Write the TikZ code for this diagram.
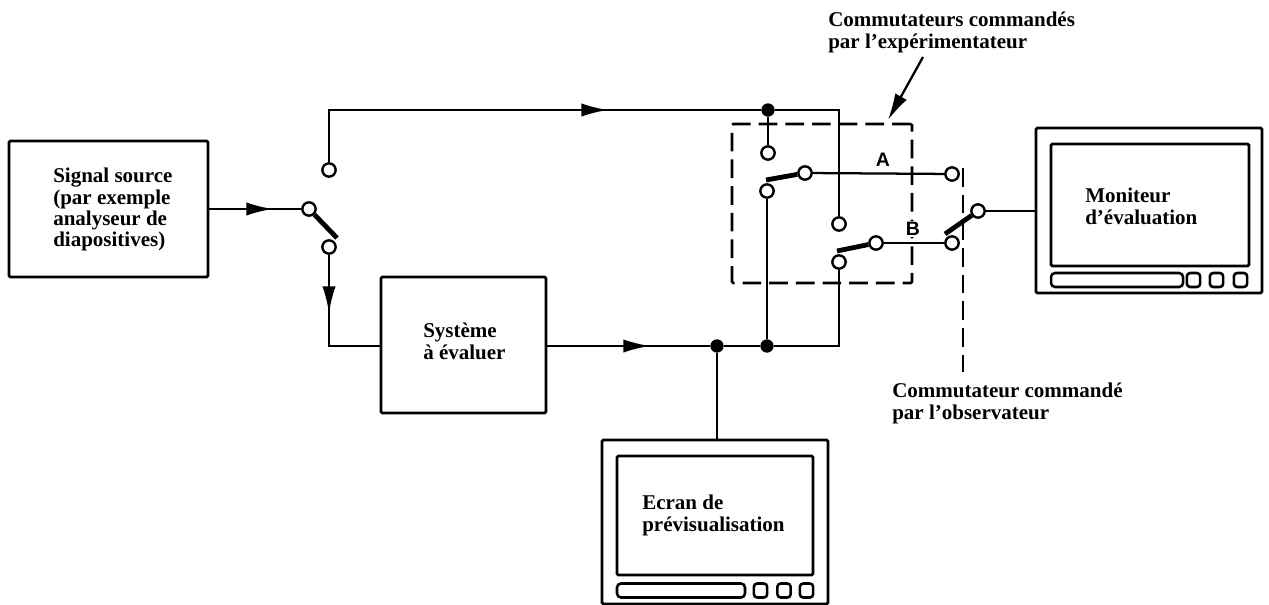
\documentclass[tikz,border=0pt]{standalone}
\usepackage{fontspec}
\setmainfont{Liberation Serif}
\newfontfamily\labelfont{Liberation Sans}
\usepackage{tikz}
\usetikzlibrary{arrows.meta, positioning, calc}
\tikzset{
    box/.style={rectangle, draw, line width=2.1pt, rounded corners=1pt},
    screen/.style={rectangle, draw, line width=2.1pt, rounded corners=1pt},
    slot/.style={rectangle, draw, line width=1.9pt, rounded corners=3pt, minimum height=10.5pt},
    knob/.style={rectangle, draw, line width=1.9pt, rounded corners=2.5pt, minimum height=10.5pt, minimum width=10pt},
    caption/.style={anchor=north west, inner sep=0pt, align=left, font=\fontsize{15.75}{16}\selectfont\bfseries},
    letter/.style={fill=white, inner sep=1pt, font=\fontsize{14.6}{15}\selectfont\labelfont\bfseries},
    contact/.style={circle, draw, fill=white, line width=1.8pt, inner sep=0pt, minimum size=10pt},
    junction/.style={circle, fill=black, inner sep=0pt, minimum size=10pt},
    wire/.style={line width=1.7pt},
    blade/.style={line width=3.6pt},
    flow/.style={line width=1.7pt, -{Latex[length=20pt, width=10pt]}},
    dashline/.style={line width=2pt, dash pattern=on 14pt off 6pt}
}
\begin{document}
\begin{tikzpicture}[x=0.75pt, y=-0.75pt, >=stealth]
        \useasboundingbox (0,0) rectangle (1269,605);

        \node [box, minimum width=149.25pt, minimum height=102pt] (source) at (108.5,209) {};
        \node [caption] (sourcetext) at (53,168) {Signal source\\(par exemple\\analyseur de\\diapositives)};
        \node [box, minimum width=123.75pt, minimum height=102pt] (system) at (463.5,345) {};
        \node [caption] (systemtext) at (423,323) {Système\\à évaluer};

        \node [contact] (inup) at (329,170) {};
        \node [contact] (inpole) at (309,209) {};
        \node [contact] (indown) at (329,247) {};
        \coordinate (inbend) at (329,346);
        \coordinate (inend) at (337,238);
        \coordinate (intip) at (273,209);
        \coordinate (downtip) at (329,313);
        \coordinate (topbend) at (329,110);
        \coordinate (toptip) at (608,110);
        \coordinate (outtip) at (650,346);

        \node [junction] (topjoin) at (768,110) {};
        \node [junction] (midjoin) at (767,346) {};
        \node [junction] (prevjoin) at (717,346) {};
        \coordinate (topcorner) at (839,110);
        \coordinate (midcorner) at (839,346);

        % switches A and B
        \node [dashline, draw, rounded corners=1pt, minimum width=135pt, minimum height=119.25pt] (group) at (822,203.5) {};
        \node [contact] (aup) at (768,153) {};
        \node [contact] (apole) at (767,191) {};
        \node [contact] (athrow) at (805,173) {};
        \node [contact] (bup) at (839,224) {};
        \node [contact] (bpole) at (839,262) {};
        \node [contact] (bthrow) at (876,243) {};
        \coordinate (aend) at (766,180);
        \coordinate (bend) at (837,251);
        \node [letter] (labela) at (883,160) {A};
        \node [letter] (labelb) at (913,229) {B};

        % observer switch
        \node [contact] (oba) at (952,174) {};
        \node [contact] (obb) at (952,243) {};
        \node [contact] (obpole) at (978,211) {};
        \coordinate (obend) at (945,234);
        \coordinate (obtop) at (963,168);
        \coordinate (obbottom) at (963,372);

        % monitors
        \node [box, minimum width=169.5pt, minimum height=123.75pt] (monitor) at (1149,210.5) {};
        \node [screen, minimum width=148.5pt, minimum height=91.5pt] (monitorscreen) at (1150,205) {};
        \node [slot, minimum width=99pt] (monitorslot) at (1117,280) {};
        \node [knob] (monitorknoba) at (1193.5,280) {};
        \node [knob] (monitorknobb) at (1216.5,280) {};
        \node [knob] (monitorknobc) at (1240.5,280) {};
        \node [caption] (monitortext) at (1085,188) {Moniteur\\d'évaluation};

        \node [box, minimum width=169.5pt, minimum height=123pt] (preview) at (715,522) {};
        \node [screen, minimum width=147pt, minimum height=89.25pt] (previewscreen) at (715,515.5) {};
        \node [slot, minimum width=96pt] (previewslot) at (681,590.5) {};
        \node [knob] (previewknoba) at (760.5,590.5) {};
        \node [knob] (previewknobb) at (784,590.5) {};
        \node [knob] (previewknobc) at (806.5,590.5) {};
        \node [caption] (previewtext) at (642,495) {Ecran de\\prévisualisation};

        \node [caption] (expertext) at (828,12) {Commutateurs commandés\\par l'expérimentateur};
        \node [caption] (obstext) at (892,383) {Commutateur commandé\\par l'observateur};
        \coordinate (pointer) at (923,57);
        \coordinate (pointertip) at (888,120);

        \draw [wire] (source.east |- inpole) -- (inpole);
        \draw [flow] (source.east |- intip) -- (intip);
        \draw [blade] (inpole) -- (inend);
        \draw [wire] (indown) -- (inbend) -- (system.west |- inbend);
        \draw [flow] (indown) -- (downtip);
        \draw [wire] (inup) -- (topbend) -- (topjoin);
        \draw [flow] (topbend) -- (toptip);
        \draw [wire] (topjoin) -- (topcorner) -- (bup);
        \draw [wire] (topjoin) -- (aup);
        \draw [wire] (system.east |- prevjoin) -- (prevjoin);
        \draw [flow] (system.east |- outtip) -- (outtip);
        \draw [wire] (prevjoin) -- (midjoin);
        \draw [wire] (midjoin) -- (midcorner) -- (bpole);
        \draw [wire] (midjoin) -- (apole);
        \draw [wire] (prevjoin) -- (preview.north -| prevjoin);
        \draw [blade] (athrow) -- (aend);
        \draw [blade] (bthrow) -- (bend);
        \draw [wire] (athrow) -- (oba);
        \draw [wire] (bthrow) -- (obb);
        \draw [blade] (obpole) -- (obend);
        \draw [wire] (obpole) -- (monitor.west |- obpole);
        \draw [dashline] (obtop) -- (obbottom);
        \draw [flow] (pointer) -- (pointertip);
    \end{tikzpicture}
\end{document}
